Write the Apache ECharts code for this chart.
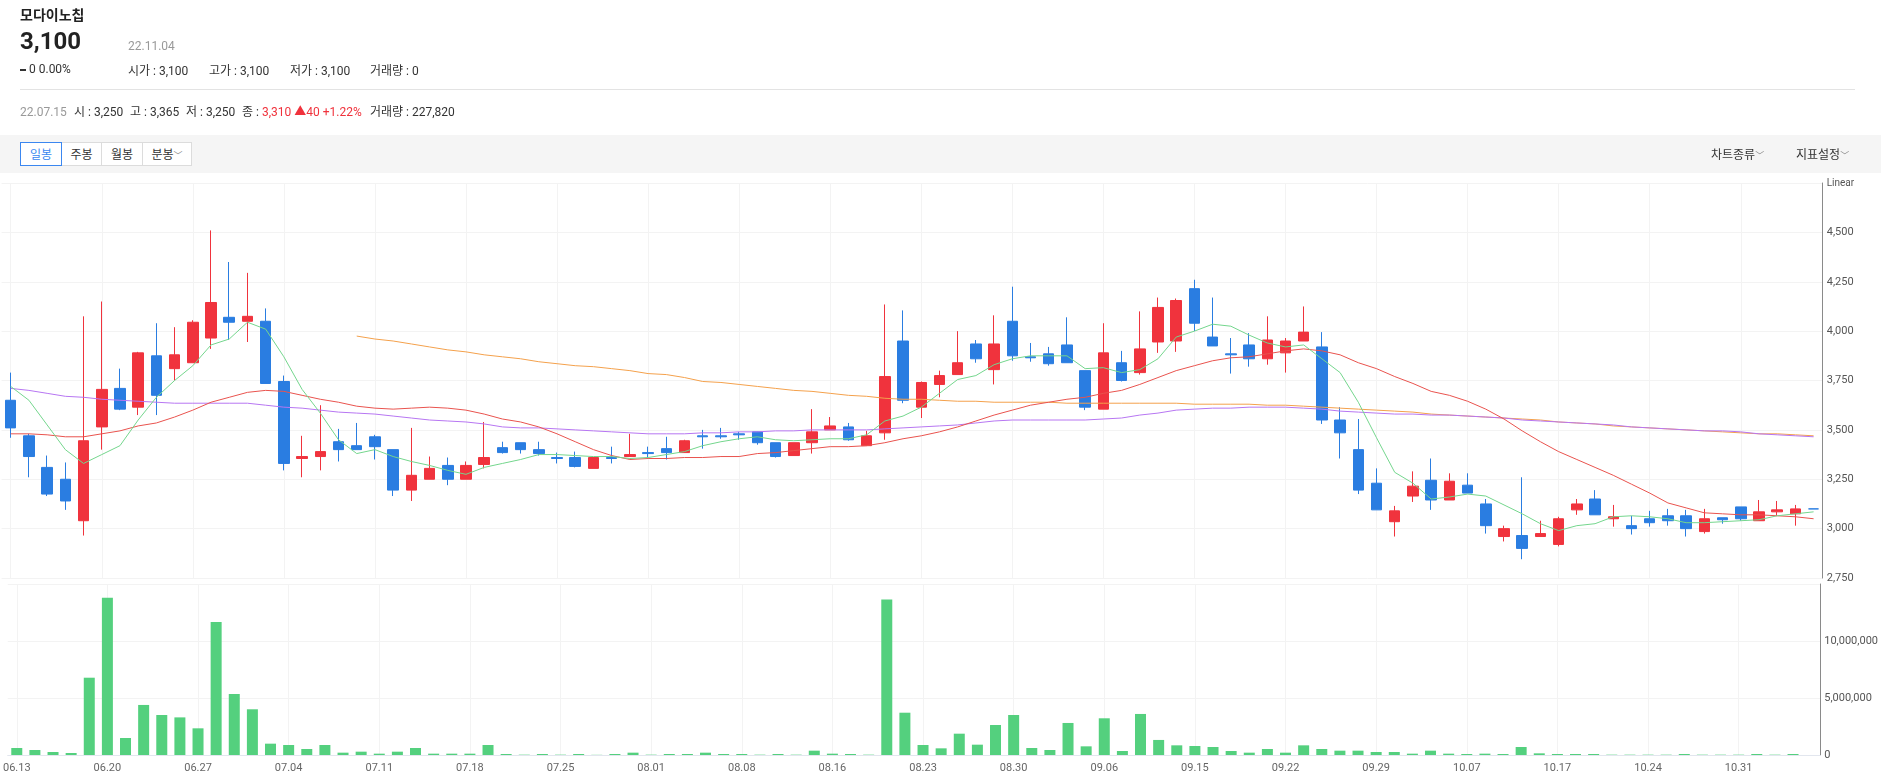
<!DOCTYPE html>
<html>
<head>
<meta charset="utf-8">
<script src="https://cdn.jsdelivr.net/npm/echarts@6/dist/echarts.min.js"></script>
<style>
  body { margin: 0; background: #fff; font-family: Roboto, "Noto Sans CJK KR", sans-serif; color: #222; }
  #wrap { position: relative; width: 1881px; height: 779px; overflow: hidden; }
  #chart { position: absolute; left: 0; top: 0; width: 1881px; height: 779px; z-index: 1; }
  .t { position: absolute; white-space: nowrap; line-height: 16px; height: 16px; font-size: 12px; z-index: 2; color: #333; }
  .grey { color: #999; }
  .red { color: #f0323c; }
  #toolbar { position: absolute; left: 0; top: 135px; width: 1881px; height: 38px; background: #f5f5f5; z-index: 0; }
  .btn { position: absolute; top: 142px; height: 24px; line-height: 24px; font-size: 12px; text-align: center;
         background: #fff; border: 1px solid #dcdcdc; box-sizing: border-box; color: #333; z-index: 2; }
  .btn.on { border-color: #3b87f0; color: #3b87f0; z-index: 3; }
  .caret { font-size: 9px; color: #888; }
</style>
</head>
<body>
<div id="wrap">
  <div id="toolbar"></div>

  <div class="t" style="left:20px;top:7px;font-size:14px;font-weight:bold;color:#222;">모다이노칩</div>
  <div class="t" style="left:20px;top:29px;font-size:24px;line-height:24px;height:24px;font-weight:bold;color:#222;">3,100</div>
  <div class="t grey" style="left:128px;top:38px;">22.11.04</div>
  <div class="t" style="left:20px;top:61px;"><span style="display:inline-block;width:6px;height:2px;background:#333;vertical-align:middle;margin-right:3px;"></span>0 0.00%</div>
  <div class="t" style="left:128px;top:63px;">시가 : 3,100</div>
  <div class="t" style="left:209px;top:63px;">고가 : 3,100</div>
  <div class="t" style="left:290px;top:63px;">저가 : 3,100</div>
  <div class="t" style="left:370px;top:63px;">거래량 : 0</div>

  <div style="position:absolute;left:20px;top:89px;width:1835px;height:1px;background:#e3e3e3;"></div>

  <div class="t grey" style="left:20px;top:104px;">22.07.15</div>
  <div class="t" style="left:74px;top:104px;">시 : 3,250</div>
  <div class="t" style="left:130px;top:104px;">고 : 3,365</div>
  <div class="t" style="left:186px;top:104px;">저 : 3,250</div>
  <div class="t" style="left:242px;top:104px;">종 : <span class="red">3,310 ▲40 +1.22%</span></div>
  <div class="t" style="left:370px;top:104px;">거래량 : 227,820</div>

  <div class="btn on" style="left:20px;width:42px;">일봉</div>
  <div class="btn" style="left:61px;width:41px;">주봉</div>
  <div class="btn" style="left:101px;width:42px;">월봉</div>
  <div class="btn" style="left:142px;width:50px;">분봉<span class="caret">﹀</span></div>

  <div class="t" style="left:1711px;top:147px;">차트종류<span class="caret">﹀</span></div>
  <div class="t" style="left:1796px;top:147px;">지표설정<span class="caret">﹀</span></div>

  <div id="chart"></div>
</div>

<script>
const dates = [
  '06.13','06.14','06.15','06.16','06.17','06.20','06.21','06.22','06.23','06.24',
  '06.27','06.28','06.29','06.30','07.01','07.04','07.05','07.06','07.07','07.08',
  '07.11','07.12','07.13','07.14','07.15','07.18','07.19','07.20','07.21','07.22',
  '07.25','07.26','07.27','07.28','07.29','08.01','08.02','08.03','08.04','08.05',
  '08.08','08.09','08.10','08.11','08.12','08.16','08.17','08.18','08.19','08.22',
  '08.23','08.24','08.25','08.26','08.29','08.30','08.31','09.01','09.02','09.05',
  '09.06','09.07','09.08','09.13','09.14','09.15','09.16','09.19','09.20','09.21',
  '09.22','09.23','09.26','09.27','09.28','09.29','09.30','10.04','10.05','10.06',
  '10.07','10.11','10.12','10.13','10.14','10.17','10.18','10.19','10.20','10.21',
  '10.24','10.25','10.26','10.27','10.28','10.31','11.01','11.02','11.03','11.04'
]

// [open, close, low, high]
const ohlc = [
  [3650,3510,3460,3790],[3470,3365,3260,3480],[3310,3175,3165,3370],[3250,3140,3095,3335],[3040,3445,2965,4075],
  [3515,3705,3400,4150],[3710,3605,3600,3810],[3615,3890,3575,3895],[3875,3675,3575,4040],[3810,3880,3750,4020],
  [3840,4045,3840,4055],[3965,4145,3910,4510],[4070,4045,3955,4350],[4050,4075,3945,4295],[4050,3735,3735,4115],
  [3745,3330,3295,3775],[3355,3365,3260,3470],[3365,3390,3295,3625],[3440,3400,3340,3505],[3420,3400,3400,3535],
  [3465,3415,3350,3475],[3400,3195,3165,3400],[3195,3270,3140,3510],[3250,3305,3250,3365],[3320,3250,3220,3360],
  [3250,3320,3250,3340],[3325,3360,3305,3540],[3410,3385,3380,3440],[3435,3400,3380,3435],[3400,3380,3370,3440],
  [3360,3355,3330,3385],[3360,3315,3310,3390],[3305,3360,3305,3360],[3360,3355,3330,3415],[3365,3375,3365,3480],
  [3385,3380,3360,3415],[3405,3385,3350,3465],[3385,3445,3385,3450],[3470,3465,3405,3500],[3470,3465,3455,3510],
  [3480,3475,3450,3490],[3490,3435,3425,3490],[3435,3365,3360,3435],[3370,3435,3370,3435],[3435,3490,3380,3605],
  [3500,3520,3500,3565],[3515,3450,3445,3535],[3420,3470,3420,3495],[3485,3770,3450,4135],[3950,3650,3635,4105],
  [3615,3740,3560,3745],[3730,3775,3665,3800],[3780,3840,3780,4000],[3935,3860,3840,3955],[3805,3935,3730,4080],
  [4050,3875,3850,4225],[3870,3865,3845,3940],[3885,3835,3825,3920],[3930,3840,3840,4070],[3800,3615,3600,3800],
  [3605,3890,3605,4040],[3840,3750,3745,3900],[3790,3910,3780,4100],[3945,4120,3890,4170],[3950,4155,3895,4165],
  [4215,4040,4000,4260],[3970,3925,3925,4170],[3885,3880,3785,3965],[3930,3860,3820,3990],[3860,3955,3830,4075],
  [3890,3950,3790,3965],[3950,3995,3950,4125],[3920,3550,3530,3995],[3550,3485,3355,3615],[3400,3195,3175,3555],
  [3230,3095,3095,3305],[3035,3090,2960,3115],[3165,3215,3135,3290],[3245,3145,3095,3355],[3145,3240,3145,3280],
  [3220,3180,3180,3280],[3125,3015,2975,3150],[2960,3000,2935,3015],[2965,2900,2845,3260],[2960,2975,2960,3040],
  [2920,3050,2910,3060],[3095,3125,3070,3150],[3150,3070,3070,3195],[3050,3060,3010,3120],[3015,3000,2970,3065],
  [3050,3030,3010,3090],[3065,3040,3015,3100],[3065,3000,2960,3095],[2985,3050,2975,3100],[3055,3045,3025,3055],
  [3110,3050,3040,3110],[3040,3085,3040,3145],[3085,3095,3065,3140],[3075,3100,3015,3120],[3100,3100,3100,3100]
]

const ma5 = [
  3720,3650,3525,3400,3330,3375,3420,3550,3665,3750,3825,3930,3960,4045,4010,3870,3705,3585,3450,3380,
  3400,3365,3340,3320,3295,3275,3310,3330,3350,3375,3375,3370,3365,3365,3355,3360,3375,3390,3420,3440,
  3455,3465,3450,3445,3450,3455,3455,3475,3545,3570,3615,3685,3755,3775,3830,3860,3875,3875,3875,3810,
  3815,3790,3805,3860,3970,4000,4035,4025,3980,3940,3920,3930,3860,3790,3640,3460,3285,3230,3150,3160,
  3175,3165,3120,3075,3025,2990,3015,3025,3060,3065,3060,3050,3030,3030,3035,3040,3045,3065,3075,3085
]

const ma20 = [
  3480,3480,3475,3465,3465,3480,3495,3520,3535,3565,3600,3640,3665,3690,3700,3695,3675,3655,3640,3620,
  3610,3605,3610,3615,3610,3600,3580,3555,3540,3515,3480,3440,3400,3370,3350,3355,3355,3360,3360,3365,
  3365,3380,3385,3395,3405,3415,3415,3420,3435,3455,3470,3490,3515,3545,3575,3600,3625,3640,3655,3665,
  3685,3700,3730,3765,3800,3825,3850,3865,3870,3885,3900,3910,3900,3880,3840,3810,3770,3735,3695,3675,
  3645,3605,3555,3495,3440,3390,3350,3310,3270,3225,3180,3130,3105,3080,3075,3070,3070,3065,3060,3050
]

const ma60 = [
  3710,3700,3685,3670,3665,3655,3650,3645,3640,3635,3635,3635,3635,3635,3625,3615,3610,3600,3590,3585,
  3580,3570,3560,3550,3545,3540,3530,3515,3510,3510,3505,3500,3495,3490,3485,3480,3480,3480,3485,3485,
  3490,3490,3495,3495,3500,3500,3500,3500,3505,3510,3515,3520,3525,3535,3545,3550,3550,3550,3550,3550,
  3555,3560,3575,3585,3600,3605,3610,3610,3615,3615,3615,3610,3605,3595,3590,3585,3580,3580,3575,3575,
  3570,3565,3560,3550,3545,3540,3535,3530,3525,3515,3510,3505,3500,3495,3495,3490,3480,3475,3470,3465
]

const ma120 = [
  '-','-','-','-','-','-','-','-','-','-','-','-','-','-','-','-','-','-','-',3975,
  3960,3950,3935,3920,3905,3895,3880,3870,3860,3845,3835,3825,3820,3810,3800,3785,3780,3765,3745,3740,
  3730,3720,3710,3700,3695,3685,3675,3670,3660,3655,3655,3650,3645,3645,3640,3640,3640,3640,3635,3635,
  3635,3635,3635,3635,3635,3630,3630,3630,3630,3625,3625,3620,3615,3610,3605,3600,3595,3590,3580,3575,
  3570,3565,3560,3555,3550,3540,3535,3530,3520,3515,3510,3505,3500,3495,3490,3485,3480,3480,3475,3470
]

const volumes = [
  614000,440000,263000,175000,6780000,13800000,1490000,4390000,3510000,3300000,
  2340000,11670000,5350000,4010000,994000,877000,526000,877000,205000,292000,
  117000,292000,614000,117000,117000,117000,877000,88000,29000,88000,
  29000,88000,15000,88000,205000,29000,88000,88000,205000,88000,
  88000,29000,88000,29000,380000,117000,88000,29000,13630000,3710000,
  877000,585000,1870000,906000,2630000,3510000,614000,439000,2810000,760000,
  3220000,351000,3600000,1320000,848000,789000,702000,351000,205000,526000,
  205000,848000,526000,380000,380000,263000,263000,117000,380000,117000,
  88000,117000,88000,702000,146000,88000,88000,88000,29000,29000,
  29000,29000,88000,29000,29000,29000,88000,29000,88000,0
]

const UP = '#f0333d'
const DOWN = '#2a7de1'
const AXIS_FONT = '"Liberation Sans Narrow", Roboto, sans-serif'

// flat candles (open == close) are drawn in the down colour, as in the source chart
const candleData = ohlc.map(d => {
  if (d[0] === d[1]) {
    return { value: d, itemStyle: { color: DOWN, color0: DOWN, borderColor: DOWN, borderColor0: DOWN } }
  }
  return d
})

const fmt = v => Number(v).toLocaleString('en-US')
const vGrid = { show: true, interval: 4, alignWithLabel: true, lineStyle: { color: '#f3f3f3' } }

const chart = echarts.init(document.getElementById('chart'))
chart.setOption({
  animation: false,
  textStyle: { fontFamily: AXIS_FONT },
  grid: [
    { left: 1.6, right: 58.3, top: 183, height: 395 },
    { left: 1.6, right: 58.3, top: 584, height: 171 }
  ],
  xAxis: [
    {
      type: 'category', gridIndex: 0, data: dates, boundaryGap: true,
      axisLine: { show: false }, axisTick: { show: false }, axisLabel: { show: false },
      splitLine: vGrid
    },
    {
      type: 'category', gridIndex: 1, data: dates, boundaryGap: true,
      axisLine: { lineStyle: { color: '#e2e6ee' } },
      axisTick: { alignWithLabel: true, interval: 4, length: 5, lineStyle: { color: '#d6d6d6' } },
      axisLabel: { interval: 4, color: '#666', fontSize: 11, margin: 8, fontFamily: AXIS_FONT },
      splitLine: vGrid
    }
  ],
  yAxis: [
    {
      type: 'value', gridIndex: 0, position: 'right', min: 2750, max: 4750, interval: 250,
      axisLine: { show: true, lineStyle: { color: '#8a8a8a' } },
      axisTick: { show: false },
      axisLabel: {
        margin: 4, color: '#555', fontSize: 11, fontFamily: AXIS_FONT,
        formatter: v => (v === 4750 ? '{l|Linear}' : fmt(v)),
        rich: { l: { fontSize: 10, color: '#555', fontFamily: AXIS_FONT } }
      },
      splitLine: { lineStyle: { color: '#f3f3f3' } }
    },
    {
      type: 'value', gridIndex: 1, position: 'right', min: 0, max: 15000000, interval: 5000000,
      axisLine: { show: true, lineStyle: { color: '#8a8a8a' } },
      axisTick: { show: false },
      axisLabel: { margin: 4, color: '#555', fontSize: 11, fontFamily: AXIS_FONT, showMaxLabel: false, formatter: fmt },
      splitLine: { lineStyle: { color: '#f3f3f3' } }
    }
  ],
  series: [
    {
      name: 'price', type: 'candlestick', xAxisIndex: 0, yAxisIndex: 0, data: candleData,
      barWidth: 11,
      itemStyle: { color: UP, color0: DOWN, borderColor: UP, borderColor0: DOWN, borderWidth: 1 }
    },
    {
      name: 'MA120', type: 'line', xAxisIndex: 0, yAxisIndex: 0, data: ma120,
      showSymbol: false, lineStyle: { width: 1, color: '#f4a14c' }
    },
    {
      name: 'MA60', type: 'line', xAxisIndex: 0, yAxisIndex: 0, data: ma60,
      showSymbol: false, lineStyle: { width: 1, color: '#b776f2' }
    },
    {
      name: 'MA20', type: 'line', xAxisIndex: 0, yAxisIndex: 0, data: ma20,
      showSymbol: false, lineStyle: { width: 1, color: '#e9534e' }
    },
    {
      name: 'MA5', type: 'line', xAxisIndex: 0, yAxisIndex: 0, data: ma5,
      showSymbol: false, lineStyle: { width: 1, color: '#74d68d' }
    },
    {
      name: 'volume', type: 'bar', xAxisIndex: 1, yAxisIndex: 1, data: volumes,
      barWidth: 11, itemStyle: { color: '#54d07e' }
    }
  ]
})
</script>
</body>
</html>
